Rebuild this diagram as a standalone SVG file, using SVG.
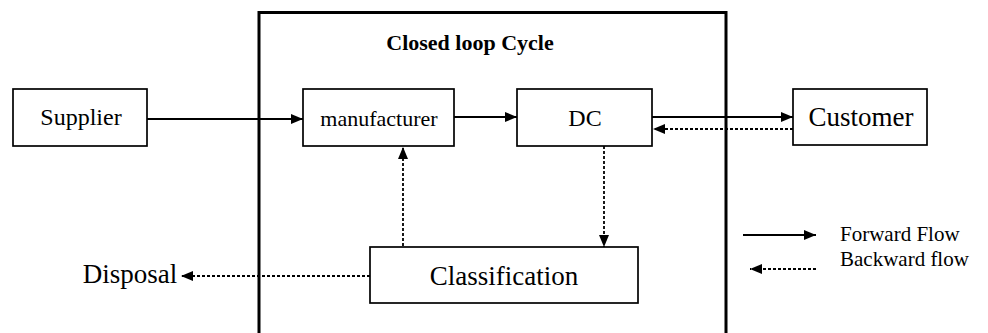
<svg xmlns="http://www.w3.org/2000/svg" width="988" height="333" viewBox="0 0 988 333">
  <defs>
    <marker id="ah" viewBox="0 0 12 10" refX="12" refY="5" markerWidth="12" markerHeight="10" markerUnits="userSpaceOnUse" orient="auto">
      <path d="M0,0 L12,5 L0,10 Z" fill="#000"/>
    </marker>
    <style>
      .box { fill: #fff; stroke: #000; stroke-width: 1.7; }
      text { font-family: "Liberation Serif", "Times New Roman", Times, serif; fill: #000; }
      .c { text-anchor: middle; }
      .solid { stroke: #000; stroke-width: 1.8; fill: none; marker-end: url(#ah); }
      .dot { stroke: #000; stroke-width: 1.8; fill: none; stroke-dasharray: 3 2; marker-end: url(#ah); }
    </style>
  </defs>
  <rect width="988" height="333" fill="#fff"/>

  <g id="frame">
    <path d="M259,333 L259,12.5 L726,12.5 L726,333" fill="none" stroke="#000" stroke-width="3"/>
    <text class="c" x="470" y="50" font-size="22" font-weight="bold" font-family="Liberation Serif, serif">Closed loop Cycle</text>
  </g>

  <g id="connectors">
    <line class="solid" x1="147" y1="119" x2="303" y2="119"/>
    <line class="solid" x1="454" y1="117" x2="517" y2="117"/>
    <line class="solid" x1="652" y1="117" x2="793" y2="117"/>
    <line class="dot" x1="793" y1="129" x2="653" y2="129"/>
    <line class="dot" x1="403" y1="251" x2="403" y2="147"/>
    <line class="dot" x1="604" y1="146" x2="604" y2="247"/>
    <line class="dot" x1="370" y1="276" x2="181" y2="276"/>
  </g>

  <g id="supplier">
    <rect class="box" x="13" y="89" width="134" height="57"/>
    <text class="c" x="81" y="125" font-size="24" font-family="Liberation Serif, serif">Supplier</text>
  </g>
  <g id="manufacturer">
    <rect class="box" x="303" y="89" width="151" height="57"/>
    <text class="c" x="379" y="126" font-size="22" font-family="Liberation Serif, serif">manufacturer</text>
  </g>
  <g id="dc">
    <rect class="box" x="517" y="89" width="135" height="57"/>
    <text class="c" x="585" y="126" font-size="24" font-family="Liberation Serif, serif">DC</text>
  </g>
  <g id="customer">
    <rect class="box" x="793" y="89" width="134" height="56"/>
    <text class="c" x="861" y="126" font-size="27" font-family="Liberation Serif, serif">Customer</text>
  </g>
  <g id="classification">
    <rect class="box" x="370" y="247" width="268" height="56"/>
    <text class="c" x="504" y="285" font-size="27" font-family="Liberation Serif, serif">Classification</text>
  </g>
  <g id="disposal">
    <text class="c" x="130" y="283" font-size="27" font-family="Liberation Serif, serif">Disposal</text>
  </g>

  <g id="legend">
    <line class="solid" x1="743" y1="235" x2="816" y2="235"/>
    <line class="dot" x1="816" y1="269" x2="750" y2="269"/>
    <text x="840" y="241" font-size="21" font-family="Liberation Serif, serif">Forward Flow</text>
    <text x="840" y="266" font-size="21" font-family="Liberation Serif, serif">Backward flow</text>
  </g>
</svg>
